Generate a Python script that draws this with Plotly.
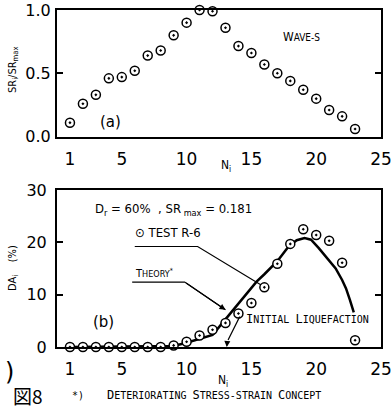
import plotly.graph_objects as go

# ---------------- data ----------------
cycles = list(range(1, 24))
sr_ratio = [0.11, 0.26, 0.33, 0.46, 0.47, 0.52, 0.64, 0.68, 0.80, 0.90, 1.0, 0.99,
            0.86, 0.715, 0.66, 0.57, 0.50, 0.44, 0.37, 0.30, 0.21, 0.16, 0.06]
da_test = [0, 0, 0, 0, 0, 0, 0, 0, 0.3, 1.0, 2.2, 3.3,
           4.6, 6.4, 8.4, 11.4, 15.9, 19.7, 22.5, 21.4, 20.3, 16.1, 1.3]
theory_n = [1, 9, 10, 11, 12, 12.5, 13, 14, 15, 15.4, 16, 17, 17.9, 18.5, 19.1,
            19.6, 20.2, 20.8, 21.5, 22.0, 22.3, 22.6, 22.9]
theory_da = [0, 0.2, 0.8, 1.6, 2.3, 3.8, 5.3, 8.3, 11.3, 12.5, 13.9, 16.4, 19.3, 20.4, 20.8,
             20.5, 18.9, 17.2, 15.0, 12.8, 11.2, 9.0, 6.6]
x_tick_vals = [1, 5, 10, 15, 20, 25]
x_tick_text = ["1", "5", "10", "15", "20", "25"]
x_mark_vals = [5, 10, 15, 20]
sr_tick_vals = [0, 0.5, 1.0]
sr_tick_text = ["0.0", "0.5", "1.0"]
da_tick_vals = [0, 10, 20, 30]
da_tick_text = ["0", "10", "20", "30"]

TICK_FONT = dict(family="DejaVu Sans", size=17, color="black")
YTICK_FONT = dict(family="DejaVu Sans", size=16, color="black")
NARROW = "Liberation Sans Narrow, DejaVu Sans Condensed, Liberation Sans, sans-serif"
MONO = "DejaVu Sans Mono, monospace"


def sc(text, big, small):
    """small-caps emulation"""
    out = []
    for word in text.split(" "):
        first, rest = word[0], word[1:]
        out.append(f"<span style='font-size:{big}px'>{first}</span>"
                   + (f"<span style='font-size:{small}px'>{rest}</span>" if rest else ""))
    return " ".join(out)


marker_style = dict(symbol="circle-dot", size=9, color="white",
                    line=dict(color="black", width=1.5))

fig = go.Figure()
fig.add_trace(go.Scatter(x=cycles, y=sr_ratio, mode="markers", marker=marker_style,
                         xaxis="x", yaxis="y", cliponaxis=False, showlegend=False))
fig.add_trace(go.Scatter(x=theory_n, y=theory_da, mode="lines",
                         line=dict(color="black", width=2.5),
                         xaxis="x2", yaxis="y2", cliponaxis=False, showlegend=False))
fig.add_trace(go.Scatter(x=cycles, y=da_test, mode="markers", marker=marker_style,
                         xaxis="x2", yaxis="y2", cliponaxis=False, showlegend=False))

xcommon = dict(range=[0, 25], showline=True, linecolor="black", linewidth=2,
               mirror=True, showgrid=False, zeroline=False, ticks="",
               tickvals=x_tick_vals, ticktext=x_tick_text, tickfont=TICK_FONT,
               ticklabelstandoff=6, automargin=False, ticklabeloverflow="allow")
xmarks = dict(range=[0, 25], showline=False, showgrid=False, zeroline=False,
              ticks="inside", ticklen=6, tickwidth=2, tickcolor="black",
              mirror="ticks", tickvals=x_mark_vals, showticklabels=False,
              automargin=False)
ycommon = dict(showline=True, linecolor="black", linewidth=2, mirror="ticks",
               showgrid=False, zeroline=False, ticks="inside", ticklen=6,
               tickwidth=2, tickcolor="black", tickfont=YTICK_FONT, automargin=False,
               ticklabeloverflow="allow")

fig.update_layout(
    width=391, height=417,
    margin=dict(l=57, r=10, t=10, b=70, autoexpand=False),
    paper_bgcolor="white", plot_bgcolor="white",
    xaxis=dict(**xcommon, anchor="y"),
    yaxis=dict(**ycommon, domain=[0.6243, 1.0], range=[0, 1.0], anchor="x",
               tickvals=sr_tick_vals, ticktext=sr_tick_text, ticklabelstandoff=1),
    xaxis2=dict(**xcommon, anchor="y2"),
    yaxis2=dict(**ycommon, domain=[0, 0.4659], range=[0, 30], anchor="x2",
                tickvals=da_tick_vals, ticktext=da_tick_text, ticklabelstandoff=5),
    xaxis3=dict(**xmarks, overlaying="x", anchor="y"),
    xaxis4=dict(**xmarks, overlaying="x2", anchor="y2"),
)

# paper-coordinate helpers (plot area: x 57..381 px, y 10..347 px)
def px_x(px):
    return (px - 57) / 324.0


def px_y(py):
    return (347 - py) / 337.0


C = dict(xanchor="center", yanchor="middle", showarrow=False)
ann = []
# panel (a)
ann.append(dict(x=4.1, y=0.115, xref="x", yref="y", text="(a)", **C,
                font=dict(family="DejaVu Sans", size=15, color="black")))
ann.append(dict(x=18.85, y=0.79, xref="x", yref="y", text=sc("WAVE-S", 12, 10), **C,
                font=dict(family=NARROW, size=10, color="black")))
# panel (b)
ann.append(dict(x=3.55, y=4.8, xref="x2", yref="y2", text="(b)", **C,
                font=dict(family="DejaVu Sans", size=15, color="black")))
ann.append(dict(x=2.8, y=26.2, xref="x2", yref="y2", xanchor="left", yanchor="middle",
                text="D<sub>r</sub> = 60%  , SR<sub> max</sub> = 0.181",
                showarrow=False, font=dict(family=NARROW, size=13, color="black")))
ann.append(dict(x=5.85, y=21.8, xref="x2", yref="y2", xanchor="left", yanchor="middle",
                text="⊙ TEST R-6", showarrow=False,
                font=dict(family=NARROW, size=13, color="black")))
ann.append(dict(x=5.85, y=14.0, xref="x2", yref="y2", xanchor="left", yanchor="middle",
                text=sc("THEORY", 11, 9) + "<sup>*</sup>", showarrow=False,
                font=dict(family=NARROW, size=10, color="black")))
ann.append(dict(x=14.45, y=5.35, xref="x2", yref="y2", xanchor="left", yanchor="middle",
                text=sc("INITIAL LIQUEFACTION", 12, 10), showarrow=False,
                font=dict(family=MONO, size=10, color="black")))
# arrow heads of leaders
ann.append(dict(x=13.0, y=7.1, xref="x2", yref="y2", ax=9.85, ay=12.4,
                axref="x2", ayref="y2", text="", showarrow=True, arrowhead=2,
                arrowsize=1, arrowwidth=1.2, arrowcolor="black"))
ann.append(dict(x=13.1, y=0.0, xref="x2", yref="y2", ax=13.15, ay=1.35,
                axref="x2", ayref="y2", text="", showarrow=True, arrowhead=2,
                arrowsize=1, arrowwidth=1.2, arrowcolor="black"))
# axis titles
ann.append(dict(x=px_x(13), y=px_y(70), xref="paper", yref="paper", **C,
                text="SR<sub>i</sub>/SR<sub>max</sub>", textangle=-90,
                font=dict(family=NARROW, size=11, color="black")))
ann.append(dict(x=px_x(13), y=px_y(268), xref="paper", yref="paper", **C,
                text="DA<sub>i</sub>    (%)", textangle=-90,
                font=dict(family=NARROW, size=11, color="black")))
ann.append(dict(x=px_x(226), y=px_y(166), xref="paper", yref="paper",
                text="N<sub>i</sub>", **C, font=dict(family=NARROW, size=12, color="black")))
ann.append(dict(x=px_x(223), y=px_y(381), xref="paper", yref="paper",
                text="N<sub>i</sub>", **C, font=dict(family=NARROW, size=12, color="black")))
# bottom notes
ann.append(dict(x=px_x(9), y=px_y(372), xref="paper", yref="paper", text=")", **C,
                font=dict(family="DejaVu Sans", size=24, color="black")))
ann.append(dict(x=px_x(28), y=px_y(395), xref="paper", yref="paper", text="図8", **C,
                font=dict(family="Noto Sans CJK JP", size=19, color="black")))
ann.append(dict(x=px_x(78), y=px_y(395), xref="paper", yref="paper", text="*)", **C,
                font=dict(family=MONO, size=10, color="black")))
ann.append(dict(x=px_x(105), y=px_y(395), xref="paper", yref="paper", xanchor="left",
                yanchor="middle", text=sc("DETERIORATING STRESS-STRAIN CONCEPT", 12, 10),
                showarrow=False, font=dict(family=MONO, size=10, color="black")))
fig.update_layout(annotations=ann)

leader = dict(color="black", width=1.2)
fig.update_layout(shapes=[
    dict(type="path", xref="x2", yref="y2", line=leader,
         path="M 6.0 19.2 L 10.85 19.2 L 15.75 11.85"),
    dict(type="path", xref="x2", yref="y2", line=leader,
         path="M 5.8 12.4 L 9.85 12.4 L 13.0 7.1"),
    dict(type="path", xref="x2", yref="y2", line=leader,
         path="M 14.1 5.8 L 13.2 1.35"),
])

fig.write_html("out.html", config={"displayModeBar": False},
               post_script="document.body.style.margin='0';document.body.style.overflow='hidden';")
